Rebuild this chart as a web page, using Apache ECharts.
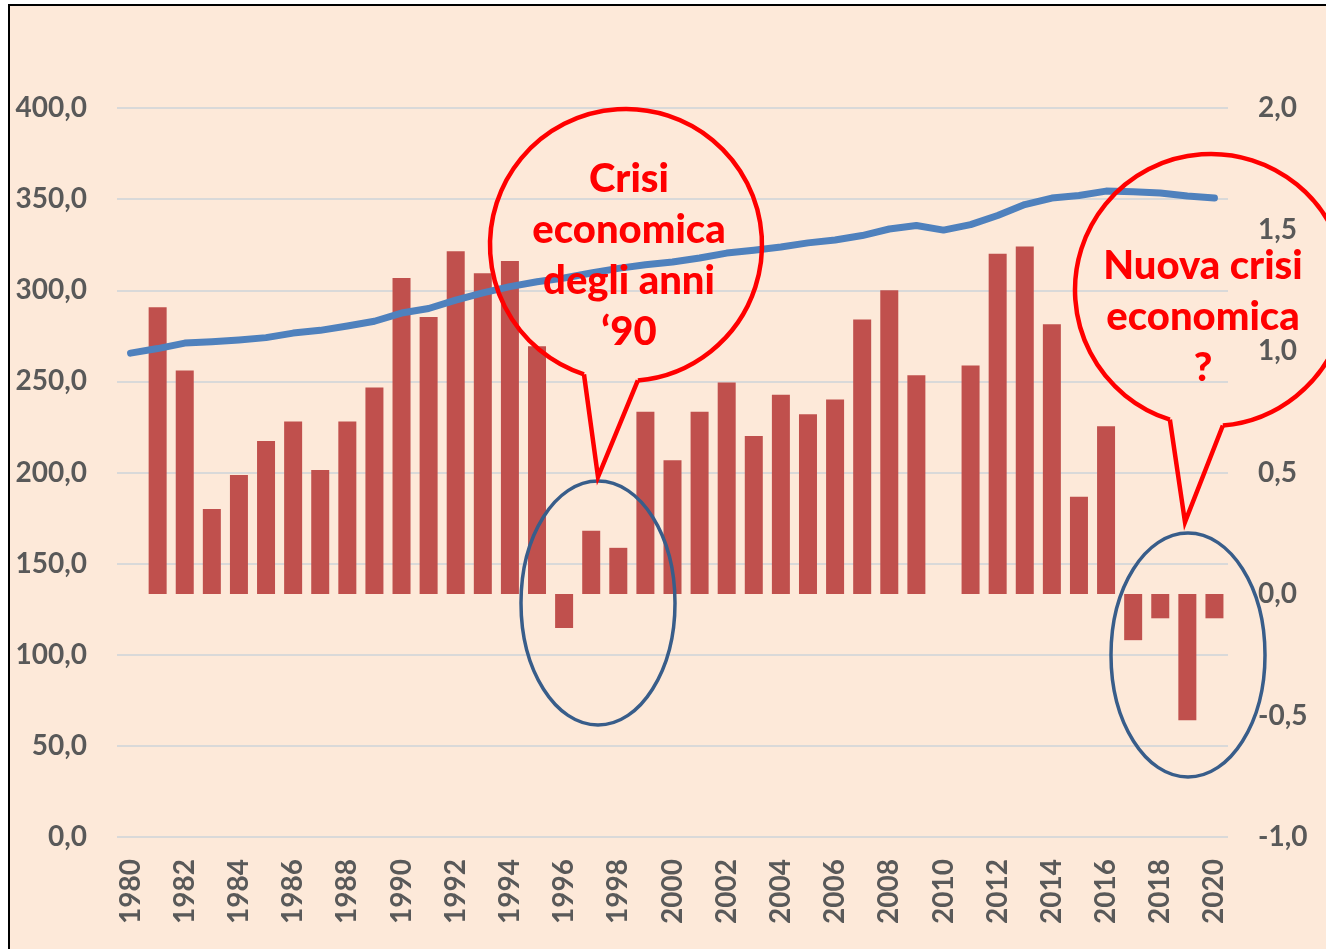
<!DOCTYPE html>
<html>
<head>
<meta charset="utf-8">
<script src="https://cdn.jsdelivr.net/npm/echarts@6/dist/echarts.min.js"></script>
<style>
  html, body { margin: 0; padding: 0; background: #ffffff; }
  #container1 { width: 1326px; height: 949px; }
</style>
</head>
<body>
<div id="container1"></div>
<script>
// anni
var years = [];
for (var y = 1980; y <= 2020; y++) years.push(String(y));

// linea (asse sinistro)
var lineValues = [
  265.5, 268, 271, 271.7, 272.7, 274, 276.5, 278, 280.4, 283,
  287.5, 290, 294.6, 298.6, 302, 304.7, 306.7, 309.5, 312, 314,
  315.5, 317.7, 320.4, 322, 323.7, 326, 327.6, 330, 333.6, 335.5,
  333, 336, 341, 347, 350.6, 352, 354.4, 354, 353.4, 351.7, 350.6
];

// barre (asse destro)
var barValues = [
  null, 1.18, 0.92, 0.35, 0.49, 0.63, 0.71, 0.51, 0.71, 0.85,
  1.30, 1.14, 1.41, 1.32, 1.37, 1.02, -0.14, 0.26, 0.19, 0.75,
  0.55, 0.75, 0.87, 0.65, 0.82, 0.74, 0.80, 1.13, 1.25, 0.90,
  null, 0.94, 1.40, 1.43, 1.11, 0.40, 0.69, -0.19, -0.10, -0.52, -0.10
];

var labelFont = 'Lato';
var grey = '#595959';
function fmt(v) { return v.toFixed(1).replace('.', ','); }

// fumetto: cerchio aperto in basso + punta
function bubble(cx, cy, r, a1, a2, tip) {
    var d = Math.PI / 180;
    var p1 = [cx + r * Math.cos(a1 * d), cy + r * Math.sin(a1 * d)];
    var p2 = [cx + r * Math.cos(a2 * d), cy + r * Math.sin(a2 * d)];
    var st = { fill: 'none', stroke: '#FF0000', lineWidth: 4.5 };
    return [
        {
            type: 'arc',
            shape: { cx: cx, cy: cy, r: r, startAngle: a2 * d, endAngle: (a1 + 360) * d, clockwise: true },
            style: st, z: 100
        },
        {
            type: 'polyline',
            shape: { points: [p2, tip, p1] },
            style: st, z: 100
        }
    ];
}

var dom = document.getElementById("container1");
var myChart = echarts.init(dom);
var graphics = [
    {
        type: 'rect',
        shape: { x: 9, y: 5, width: 1400, height: 1000 },
        style: { fill: '#FDE9D9', stroke: '#000000', lineWidth: 2 },
        z: -10,
        silent: true
    },
    {
        type: 'text',
        x: 629, y: 256,
        style: {
            text: 'Crisi\neconomica\ndegli anni\n\u201890',
            fill: '#FF0000',
            font: '900 40px Lato',
            lineHeight: 51,
            align: 'center',
            verticalAlign: 'middle'
        },
        z: 101
    },
    {
        type: 'text',
        x: 1203, y: 317,
        style: {
            text: 'Nuova crisi\neconomica\n?',
            fill: '#FF0000',
            font: '900 40px Lato',
            lineHeight: 51,
            align: 'center',
            verticalAlign: 'middle'
        },
        z: 101
    },
    {
        type: 'ellipse',
        shape: { cx: 598, cy: 603, rx: 77, ry: 122 },
        style: { fill: 'none', stroke: '#385D8A', lineWidth: 3.5 },
        z: 100
    },
    {
        type: 'ellipse',
        shape: { cx: 1188, cy: 655, rx: 77, ry: 122 },
        style: { fill: 'none', stroke: '#385D8A', lineWidth: 3.5 },
        z: 100
    }
].concat(bubble(626, 245, 136, 85, 108, [598, 477]))
 .concat(bubble(1211, 290, 136, 85, 107.6, [1185, 522]));

var option = {
    backgroundColor: '#ffffff',
    animation: false,
    grid: { left: 117, right: 98, top: 108, bottom: 112 },
    xAxis: {
        type: 'category',
        boundaryGap: true,
        data: years,
        axisLine: { show: false },
        axisTick: { show: false },
        axisLabel: {
            interval: 1,
            rotate: 90,
            margin: 22,
            color: grey,
            fontFamily: labelFont,
            fontWeight: 'bold',
            fontSize: 28
        }
    },
    yAxis: [
        {
            type: 'value',
            min: 0,
            max: 400,
            interval: 50,
            axisLine: { show: false },
            axisTick: { show: false },
            splitLine: { lineStyle: { color: '#D9D9D9', width: 2 } },
            axisLabel: {
                margin: 30,
                color: grey,
                fontFamily: labelFont,
                fontWeight: 'bold',
                fontSize: 28,
                formatter: fmt
            }
        },
        {
            type: 'value',
            min: -1,
            max: 2,
            interval: 0.5,
            axisLine: { show: false },
            axisTick: { show: false },
            splitLine: { show: false },
            axisLabel: {
                margin: 30,
                color: grey,
                fontFamily: labelFont,
                fontWeight: 'bold',
                fontSize: 28,
                formatter: fmt
            }
        }
    ],
    series: [
        {
            name: 'Variazione',
            type: 'bar',
            yAxisIndex: 1,
            barWidth: 18,
            data: barValues,
            itemStyle: { color: '#C0504D' },
            z: 2
        },
        {
            name: 'Livello',
            type: 'line',
            yAxisIndex: 0,
            data: lineValues,
            showSymbol: false,
            lineStyle: { color: '#4F81BD', width: 7, cap: 'round', join: 'round' },
            z: 3
        }
    ],
    graphic: graphics
};
if (option && typeof option === "object") {
    myChart.setOption(option, true);
}
</script>
</body>
</html>
